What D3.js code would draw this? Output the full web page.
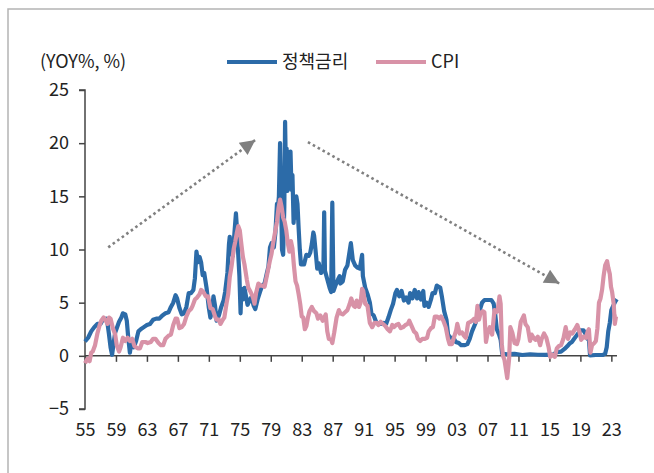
<!DOCTYPE html>
<html>
<head>
<meta charset="utf-8">
<script src="https://cdn.jsdelivr.net/npm/d3@7"></script>
<style>
  body { margin: 0; background: #fff; }
  svg text { font-family: "Noto Sans CJK KR", "Noto Sans", sans-serif; fill: #222; }
</style>
</head>
<body>
<svg id="chart" width="654" height="473"></svg>
<script>
// Series: [decimal year, value]
const policyRate = [
  [1955.0,1.35],[1955.4,1.7],[1955.8,2.3],[1956.2,2.7],[1956.6,3.0],[1957.0,3.0],[1957.3,3.4],[1957.7,3.5],
  [1957.9,3.1],[1958.1,2.0],[1958.3,0.8],[1958.5,0.1],[1958.7,1.2],[1958.9,2.2],[1959.1,2.6],[1959.4,3.2],
  [1959.7,3.6],[1959.9,4.0],[1960.2,3.9],[1960.4,3.3],[1960.6,1.6],[1960.8,0.3],[1961.0,1.4],[1961.3,0.8],
  [1961.6,1.4],[1961.9,2.3],[1962.2,2.5],[1962.6,2.7],[1963.0,2.9],[1963.4,3.0],[1963.8,3.4],[1964.2,3.5],
  [1964.6,3.5],[1965.0,3.8],[1965.4,4.0],[1965.8,4.1],[1966.1,4.6],[1966.4,5.0],[1966.7,5.7],[1966.9,5.4],
  [1967.2,4.5],[1967.5,3.9],[1967.8,4.0],[1968.1,4.6],[1968.4,5.9],[1968.7,5.9],[1969.0,6.2],[1969.2,7.3],
  [1969.4,9.8],[1969.6,8.8],[1969.8,9.3],[1970.0,8.8],[1970.2,7.6],[1970.4,7.8],[1970.7,6.4],[1971.0,4.5],
  [1971.2,3.6],[1971.4,4.2],[1971.6,5.6],[1971.8,4.7],[1972.0,3.3],[1972.3,3.8],[1972.6,4.6],[1972.9,5.2],
  [1973.1,6.0],[1973.4,7.8],[1973.6,10.5],[1973.7,11.2],[1973.9,9.6],[1974.1,9.4],[1974.3,11.5],[1974.5,13.4],
  [1974.6,12.3],[1974.8,9.5],[1974.95,7.5],[1975.1,4.0],[1975.2,6.3],[1975.4,5.3],[1975.6,6.4],[1975.8,5.6],
  [1976.0,4.8],[1976.3,5.3],[1976.5,5.5],[1976.8,4.7],[1977.0,4.4],[1977.3,5.3],[1977.6,6.0],[1977.9,6.6],
  [1978.2,6.8],[1978.5,7.8],[1978.7,8.4],[1978.9,10.2],[1979.1,10.6],[1979.4,10.2],[1979.6,11.6],[1979.8,14.3],
  [1979.9,13.8],[1980.05,15.0],[1980.2,20.0],[1980.3,16.0],[1980.45,10.0],[1980.6,9.5],[1980.75,14.0],[1980.85,22.0],
  [1980.95,17.5],[1981.05,19.5],[1981.15,15.5],[1981.3,19.0],[1981.42,16.8],[1981.55,19.2],[1981.68,15.6],[1981.8,17.0],
  [1981.95,12.5],[1982.1,14.7],[1982.2,13.0],[1982.3,15.0],[1982.45,14.3],[1982.6,12.0],[1982.75,10.0],[1982.9,8.6],
  [1983.1,8.6],[1983.3,8.6],[1983.6,9.5],[1983.9,9.4],[1984.1,9.7],[1984.3,10.5],[1984.5,11.6],[1984.6,11.3],
  [1984.8,9.8],[1985.0,8.2],[1985.2,8.7],[1985.5,7.8],[1985.8,8.1],[1985.9,13.5],[1986.0,8.0],[1986.3,7.2],
  [1986.6,6.4],[1986.8,6.0],[1986.95,14.4],[1987.1,6.1],[1987.4,6.7],[1987.7,7.2],[1987.9,7.5],[1988.0,6.8],
  [1988.3,7.0],[1988.6,8.1],[1988.9,8.5],[1989.2,9.9],[1989.35,10.6],[1989.6,9.0],[1989.9,8.5],[1990.2,8.3],
  [1990.5,8.2],[1990.8,9.5],[1990.9,7.5],[1991.2,6.4],[1991.5,5.8],[1991.8,5.0],[1992.0,4.0],[1992.3,3.8],
  [1992.6,3.2],[1992.9,3.0],[1993.2,3.0],[1993.6,3.1],[1993.9,3.0],[1994.2,3.6],[1994.5,4.3],[1994.8,4.9],
  [1995.1,5.9],[1995.3,6.2],[1995.6,5.6],[1995.9,6.1],[1996.2,5.2],[1996.5,5.5],[1996.8,5.0],[1997.0,5.9],
  [1997.3,5.4],[1997.6,6.2],[1997.9,5.4],[1998.1,6.0],[1998.4,5.3],[1998.7,6.1],[1998.85,4.7],[1999.1,5.0],
  [1999.4,4.6],[1999.7,5.3],[1999.9,5.9],[2000.2,5.9],[2000.45,6.6],[2000.7,6.5],[2000.9,6.4],[2001.1,5.6],
  [2001.4,4.2],[2001.7,3.4],[2001.9,2.0],[2002.2,1.7],[2002.6,1.7],[2002.9,1.3],[2003.3,1.2],[2003.6,1.0],
  [2004.0,1.0],[2004.4,1.1],[2004.7,1.6],[2005.0,2.3],[2005.4,3.0],[2005.7,3.6],[2006.0,4.3],[2006.3,5.0],
  [2006.6,5.25],[2007.0,5.25],[2007.5,5.25],[2007.8,4.9],[2008.0,3.9],[2008.2,2.5],[2008.5,2.0],[2008.7,1.5],
  [2008.9,0.2],[2009.5,0.15],[2010.5,0.18],[2011.5,0.08],[2012.5,0.15],[2013.5,0.1],[2014.5,0.09],[2015.5,0.13],
  [2015.95,0.35],[2016.5,0.4],[2016.95,0.65],[2017.3,0.9],[2017.6,1.15],[2017.9,1.3],[2018.2,1.6],[2018.5,1.9],
  [2018.8,2.2],[2019.0,2.4],[2019.4,2.4],[2019.7,2.0],[2019.9,1.6],[2020.1,1.55],[2020.25,0.05],[2021.0,0.08],
  [2021.9,0.08],[2022.2,0.2],[2022.4,0.8],[2022.6,2.3],[2022.8,3.1],[2023.0,4.3],[2023.3,4.8],[2023.5,5.1],
  [2023.7,5.33]
];

const cpi = [
  [1955.0,-0.7],[1955.3,-0.3],[1955.6,-0.5],[1955.8,0.3],[1956.0,0.4],[1956.3,1.0],[1956.6,2.1],[1956.9,2.9],
  [1957.1,3.3],[1957.4,3.6],[1957.7,3.3],[1957.9,3.0],[1958.1,3.6],[1958.3,3.5],[1958.6,2.6],[1958.9,2.0],
  [1959.1,1.0],[1959.4,0.4],[1959.6,0.8],[1959.9,1.7],[1960.2,1.4],[1960.5,1.7],[1960.8,1.4],[1961.1,1.6],
  [1961.4,0.9],[1961.8,0.7],[1962.1,0.7],[1962.4,1.3],[1962.8,1.3],[1963.1,1.2],[1963.5,1.3],[1963.8,1.6],
  [1964.1,1.6],[1964.5,1.2],[1964.8,1.0],[1965.1,1.0],[1965.4,1.6],[1965.8,1.9],[1966.1,2.0],[1966.4,2.9],
  [1966.7,3.5],[1966.9,3.5],[1967.2,2.6],[1967.5,2.7],[1967.8,3.0],[1968.1,3.7],[1968.4,4.2],[1968.7,4.4],
  [1968.9,4.7],[1969.2,5.3],[1969.5,5.5],[1969.8,5.8],[1970.0,6.2],[1970.3,6.0],[1970.6,5.6],[1970.9,5.6],
  [1971.2,4.5],[1971.5,4.4],[1971.8,3.7],[1972.0,3.4],[1972.3,3.4],[1972.5,3.0],[1972.8,3.4],[1973.0,3.6],
  [1973.3,5.0],[1973.5,5.8],[1973.7,7.4],[1973.95,8.5],[1974.2,10.0],[1974.4,10.7],[1974.6,11.5],[1974.8,12.2],
  [1975.0,11.8],[1975.2,10.5],[1975.4,9.3],[1975.6,8.6],[1975.9,7.2],[1976.1,6.4],[1976.4,6.0],[1976.7,5.5],
  [1976.9,4.9],[1977.1,5.9],[1977.4,6.8],[1977.7,6.6],[1977.9,6.6],[1978.2,6.5],[1978.4,7.2],[1978.6,7.9],
  [1978.9,9.0],[1979.1,9.6],[1979.3,10.6],[1979.6,11.8],[1979.8,12.6],[1980.0,13.9],[1980.2,14.7],[1980.4,14.0],
  [1980.6,13.0],[1980.8,12.6],[1981.0,11.8],[1981.2,10.6],[1981.4,9.8],[1981.6,10.8],[1981.8,10.1],[1982.0,8.4],
  [1982.2,7.0],[1982.4,6.6],[1982.6,5.8],[1982.8,4.9],[1983.0,3.7],[1983.2,3.6],[1983.4,2.5],[1983.6,2.8],
  [1983.8,3.6],[1984.0,4.2],[1984.3,4.6],[1984.6,4.2],[1984.9,4.0],[1985.1,3.5],[1985.4,3.8],[1985.7,3.3],
  [1985.9,3.6],[1986.1,3.9],[1986.3,2.3],[1986.5,1.6],[1986.8,1.5],[1986.95,1.2],[1987.2,2.2],[1987.5,3.6],
  [1987.8,4.3],[1988.0,4.0],[1988.3,3.9],[1988.6,4.1],[1988.9,4.3],[1989.2,4.9],[1989.4,5.4],[1989.7,4.7],
  [1989.9,4.6],[1990.1,5.2],[1990.4,4.6],[1990.6,5.0],[1990.8,6.3],[1990.95,6.1],[1991.2,4.9],[1991.5,4.7],
  [1991.8,3.1],[1992.1,2.7],[1992.4,3.1],[1992.7,3.1],[1992.9,2.9],[1993.2,3.2],[1993.5,3.0],[1993.8,2.8],
  [1994.1,2.5],[1994.4,2.3],[1994.7,2.9],[1994.9,2.7],[1995.2,2.9],[1995.5,3.0],[1995.8,2.6],[1996.1,2.7],
  [1996.4,2.9],[1996.7,3.0],[1996.9,3.3],[1997.2,2.8],[1997.5,2.3],[1997.8,2.1],[1998.0,1.6],[1998.3,1.4],
  [1998.6,1.6],[1998.9,1.6],[1999.2,1.7],[1999.4,2.3],[1999.7,2.6],[1999.95,2.7],[2000.2,3.7],[2000.5,3.7],
  [2000.8,3.5],[2001.0,3.7],[2001.3,3.3],[2001.6,2.7],[2001.9,1.6],[2002.1,1.1],[2002.4,1.1],[2002.7,1.8],
  [2002.95,2.4],[2003.1,3.0],[2003.4,2.1],[2003.7,2.2],[2003.95,1.9],[2004.2,1.7],[2004.5,3.1],[2004.8,3.2],
  [2005.0,3.3],[2005.3,3.5],[2005.5,3.2],[2005.7,4.7],[2005.9,3.4],[2006.1,4.0],[2006.4,4.2],[2006.6,4.1],
  [2006.8,1.3],[2007.0,2.1],[2007.3,2.7],[2007.6,2.0],[2007.9,4.3],[2008.1,4.1],[2008.3,4.2],[2008.55,5.6],
  [2008.7,4.9],[2008.85,1.1],[2009.0,0.0],[2009.2,-0.4],[2009.55,-2.1],[2009.8,-0.2],[2009.95,2.7],[2010.2,2.2],
  [2010.5,1.2],[2010.8,1.1],[2011.0,1.6],[2011.3,3.2],[2011.7,3.8],[2011.9,3.0],[2012.2,2.7],[2012.5,1.4],
  [2012.7,2.0],[2012.95,1.7],[2013.2,1.5],[2013.5,1.8],[2013.8,1.0],[2014.0,1.6],[2014.3,2.1],[2014.6,1.7],
  [2014.9,0.8],[2015.1,-0.1],[2015.4,0.1],[2015.7,-0.1],[2015.95,0.7],[2016.2,0.9],[2016.5,1.0],[2016.8,1.6],
  [2017.1,2.7],[2017.4,1.6],[2017.7,2.2],[2017.95,2.1],[2018.3,2.5],[2018.6,2.9],[2018.9,2.2],[2019.1,1.5],
  [2019.4,1.8],[2019.7,1.7],[2019.95,2.3],[2020.1,2.5],[2020.3,0.3],[2020.5,1.0],[2020.8,1.2],[2021.0,1.4],
  [2021.2,2.6],[2021.4,5.0],[2021.6,5.4],[2021.8,6.2],[2022.0,7.5],[2022.2,8.5],[2022.45,8.9],[2022.6,8.3],
  [2022.8,7.7],[2022.95,6.5],[2023.1,6.0],[2023.3,4.9],[2023.45,3.0],[2023.6,3.7],[2023.7,3.7]
];

const yTicks = [-5, 0, 5, 10, 15, 20, 25];
const xTicks = [1955, 1959, 1963, 1967, 1971, 1975, 1979, 1983, 1987, 1991, 1995, 1999, 2003, 2007, 2011, 2015, 2019, 2023];
const seriesNames = ["정책금리", "CPI"];
const unitLabel = "(YOY%, %)";

// Trend arrows (data units)
const trendUp = [[1958.0, 10.2], [1977.0, 20.3]];
const trendDown = [[1983.8, 20.1], [2016.3, 6.8]];

const BLUE = "#2c6ba8";
const PINK = "#d892a7";

const svg = d3.select("#chart");

// Frame (top and left edge)
svg.append("path")
    .attr("d", "M8,473V9H654")
    .attr("fill", "none")
    .attr("stroke", "#b4b4b4")
    .attr("stroke-width", 1.5);

const x = d3.scaleLinear().domain([1955, 2023.73]).range([85, 617]);
const y = d3.scaleLinear().domain([-5, 25]).range([409, 90]);

// Y axis
const yAxis = svg.append("g")
    .attr("transform", `translate(${x(1955)},0)`)
    .call(d3.axisLeft(y).tickValues(yTicks).tickSize(6).tickPadding(10).tickFormat(d => d < 0 ? "\u2212" + Math.abs(d) : d));

// X axis at zero
const xAxis = svg.append("g")
    .attr("transform", `translate(0,${y(0)})`)
    .call(d3.axisBottom(x).tickValues(xTicks).tickSize(6).tickFormat(d => String(d).slice(2)));
xAxis.selectAll("text").attr("y", 80).attr("dy", 0);

[yAxis, xAxis].forEach(a => {
    a.select(".domain").attr("stroke", "#444").attr("stroke-width", 1.5);
    a.selectAll(".tick line").attr("stroke", "#444").attr("stroke-width", 1.5);
    a.selectAll("text").style("font-size", "18px").attr("fill", "#222");
});
yAxis.selectAll(".domain").attr("d", `M-6,${y(25)}H0V${y(-5)}H-6`);
xAxis.select(".domain").attr("d", `M${x(1955)},0H${x(2023.73)}`);

// Lines
const line = d3.line().x(d => x(d[0])).y(d => y(d[1]));

svg.append("path")
    .datum(policyRate)
    .attr("d", line)
    .attr("fill", "none")
    .attr("stroke", BLUE)
    .attr("stroke-width", 4.2)
    .attr("stroke-linejoin", "round");

svg.append("path")
    .datum(cpi)
    .attr("d", line)
    .attr("fill", "none")
    .attr("stroke", PINK)
    .attr("stroke-width", 4.2)
    .attr("stroke-linejoin", "round");

// Arrowhead
svg.append("defs").append("marker")
    .attr("id", "tri")
    .attr("viewBox", "0 -5 10 10")
    .attr("refX", 10)
    .attr("refY", 0)
    .attr("markerUnits", "userSpaceOnUse")
    .attr("markerWidth", 18)
    .attr("markerHeight", 15)
    .attr("orient", "auto")
    .append("path")
    .attr("d", "M0,-5L10,0L0,5Z")
    .attr("fill", "#808080");

[trendUp, trendDown].forEach(t => {
    svg.append("path")
        .datum(t)
        .attr("d", line)
        .attr("fill", "none")
        .attr("stroke", "#808080")
        .attr("stroke-width", 2.6)
        .attr("stroke-dasharray", "2.6,3")
        .attr("marker-end", "url(#tri)");
});

// Legend
svg.append("text")
    .attr("x", 40).attr("y", 68)
    .style("font-size", "18px")
    .text(unitLabel);

const legend = svg.append("g");
const legendX = [227, 376];
const legendColors = [BLUE, PINK];
seriesNames.forEach((name, i) => {
    legend.append("line")
        .attr("x1", legendX[i]).attr("x2", legendX[i] + 50)
        .attr("y1", 62).attr("y2", 62)
        .attr("stroke", legendColors[i])
        .attr("stroke-width", 4);
    legend.append("text")
        .attr("x", legendX[i] + 55).attr("y", 68)
        .style("font-size", "18px")
        .text(name);
});
</script>
</body>
</html>
